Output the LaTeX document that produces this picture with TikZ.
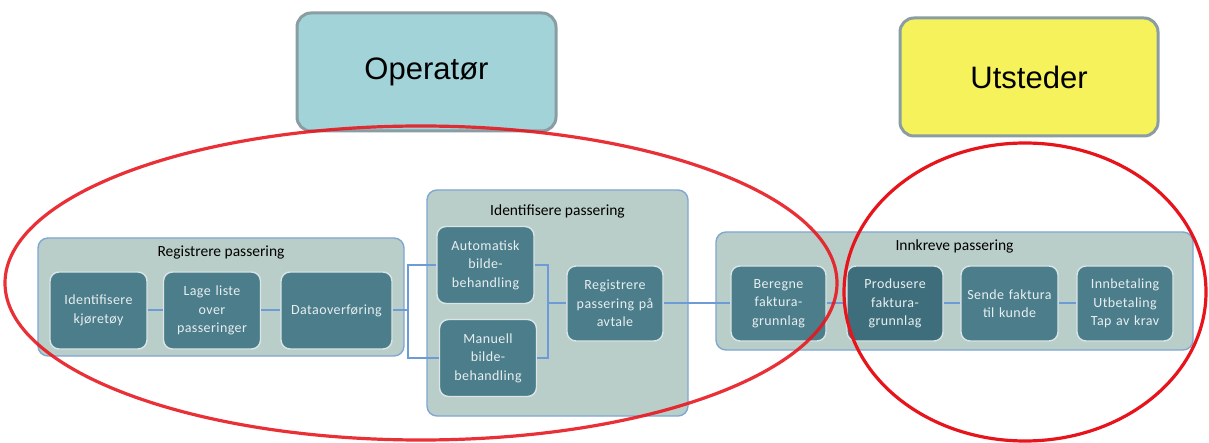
\documentclass[tikz,border=0pt]{standalone}
\usepackage{fontspec}
\setmainfont{Carlito}
\newfontfamily\rolefont{Liberation Sans}
\newfontfamily\stepfont[LetterSpace=3]{Carlito}
\usetikzlibrary{calc}
\definecolor{procfill}{HTML}{4B7D8B}
\definecolor{procdark}{HTML}{3E6E7C}
\definecolor{procline}{HTML}{D9E5E7}
\definecolor{proctext}{HTML}{E8EFF1}
\definecolor{grpfill}{HTML}{B9CEC8}
\definecolor{grpline}{HTML}{7FA7D2}
\definecolor{linkcol}{HTML}{6C9BD6}
\definecolor{opfill}{HTML}{A1D3D9}
\definecolor{utfill}{HTML}{F6F25C}
\definecolor{roleline}{HTML}{8A9DA3}
\definecolor{zonered}{HTML}{E8141C}
\tikzset{
  proc/.style={draw=procline, line width=1.4pt, fill=procfill, rounded corners=9pt,
    minimum width=#1, minimum height=77pt, inner sep=0pt, text width=#1,
    align=center, text=proctext, font=\stepfont\fontsize{14}{18.5}\selectfont},
  proc/.default=97pt,
  grp/.style={draw=grpline, line width=1.4pt, fill=grpfill, rounded corners=10pt, inner sep=0pt},
  grptitle/.style={font=\fontsize{15.5}{18}\selectfont, text=black, inner sep=0pt},
  role/.style={draw=roleline, line width=3pt, rounded corners=14pt, inner sep=0pt,
    font=\rolefont\fontsize{31}{35}\selectfont, text=black},
  link/.style={draw=linkcol, line width=2pt},
  zone/.style={draw=zonered, line width=3.2pt}
}
\begin{document}
\begin{tikzpicture}[x=1pt, y=-1pt]
\useasboundingbox (0,0) rectangle (1209,443);
\fill[white] (0,0) rectangle (1209,443);

% roles
\node[role, fill=opfill, minimum width=259pt, minimum height=118pt] (op) at (426.5,72) {Operatør};
\node[role, fill=utfill, minimum width=258pt, minimum height=118pt] (ut) at (1029,77) {Utsteder};

% process groups
\node[grp, minimum width=366pt, minimum height=118pt] (g1) at (221,297) {};
\node[grptitle] (g1t) at (221,253) {Registrere passering};
\node[grp, minimum width=261pt, minimum height=226pt] (g2) at (557.5,303) {};
\node[grptitle] (g2t) at (557.5,211) {Identifisere passering};
\node[grp, minimum width=477pt, minimum height=118pt] (g3) at (954.5,291) {};
\node[grptitle] (g3t) at (954.5,246) {Innkreve passering};

% steps
\node[proc] (idk) at (98.5,310.5) {Identifisere\\kjøretøy};
\node[proc] (lage) at (212,310.5) {Lage liste\\over\\passeringer};
\node[proc=111pt] (data) at (336.5,310.5) {Dataoverføring};
\node[proc] (auto) at (485.5,265) {Automatisk\\bilde-\\behandling};
\node[proc] (man) at (488,358) {Manuell\\bilde-\\behandling};
\node[proc=96pt, minimum height=75pt] (reg) at (615,303.5) {Registrere\\passering på\\avtale};
\node[proc=95pt, minimum height=75pt] (ber) at (778.5,303.5) {Beregne\\faktura-\\grunnlag};
\node[proc=96pt, minimum height=75pt, fill=procdark] (pro) at (895,303.5) {Produsere\\faktura-\\grunnlag};
\node[proc=97pt, minimum height=75pt] (sen) at (1009.5,303.5) {Sende faktura\\til kunde};
\node[proc=96pt, minimum height=75pt] (inn) at (1125,303.5) {Innbetaling\\Utbetaling\\Tap av krav};

% junction points
\coordinate (jl) at (408,310.5);
\coordinate (jr) at (548,303.5);

% connectors
\draw[link] (idk) -- (lage);
\draw[link] (lage) -- (data);
\draw[link] (data.east) -- (jl);
\draw[link] (auto.west) -- (auto.west -| jl) -- (man.west -| jl) -- (man.west);
\draw[link] (auto.east) -- (auto.east -| jr) -- (man.east -| jr) -- (man.east);
\draw[link] (jr) -- (reg.west);
\draw[link] (reg.east) -- (ber.west);
\draw[link] (ber) -- (pro);
\draw[link] (pro) -- (sen);
\draw[link] (sen) -- (inn);

% responsibility zones
\draw[zone, draw opacity=0.88] (421,283) ellipse [x radius=416, y radius=157];
\draw[zone] (1025,292) ellipse [x radius=181, y radius=149];
\end{tikzpicture}
\end{document}
